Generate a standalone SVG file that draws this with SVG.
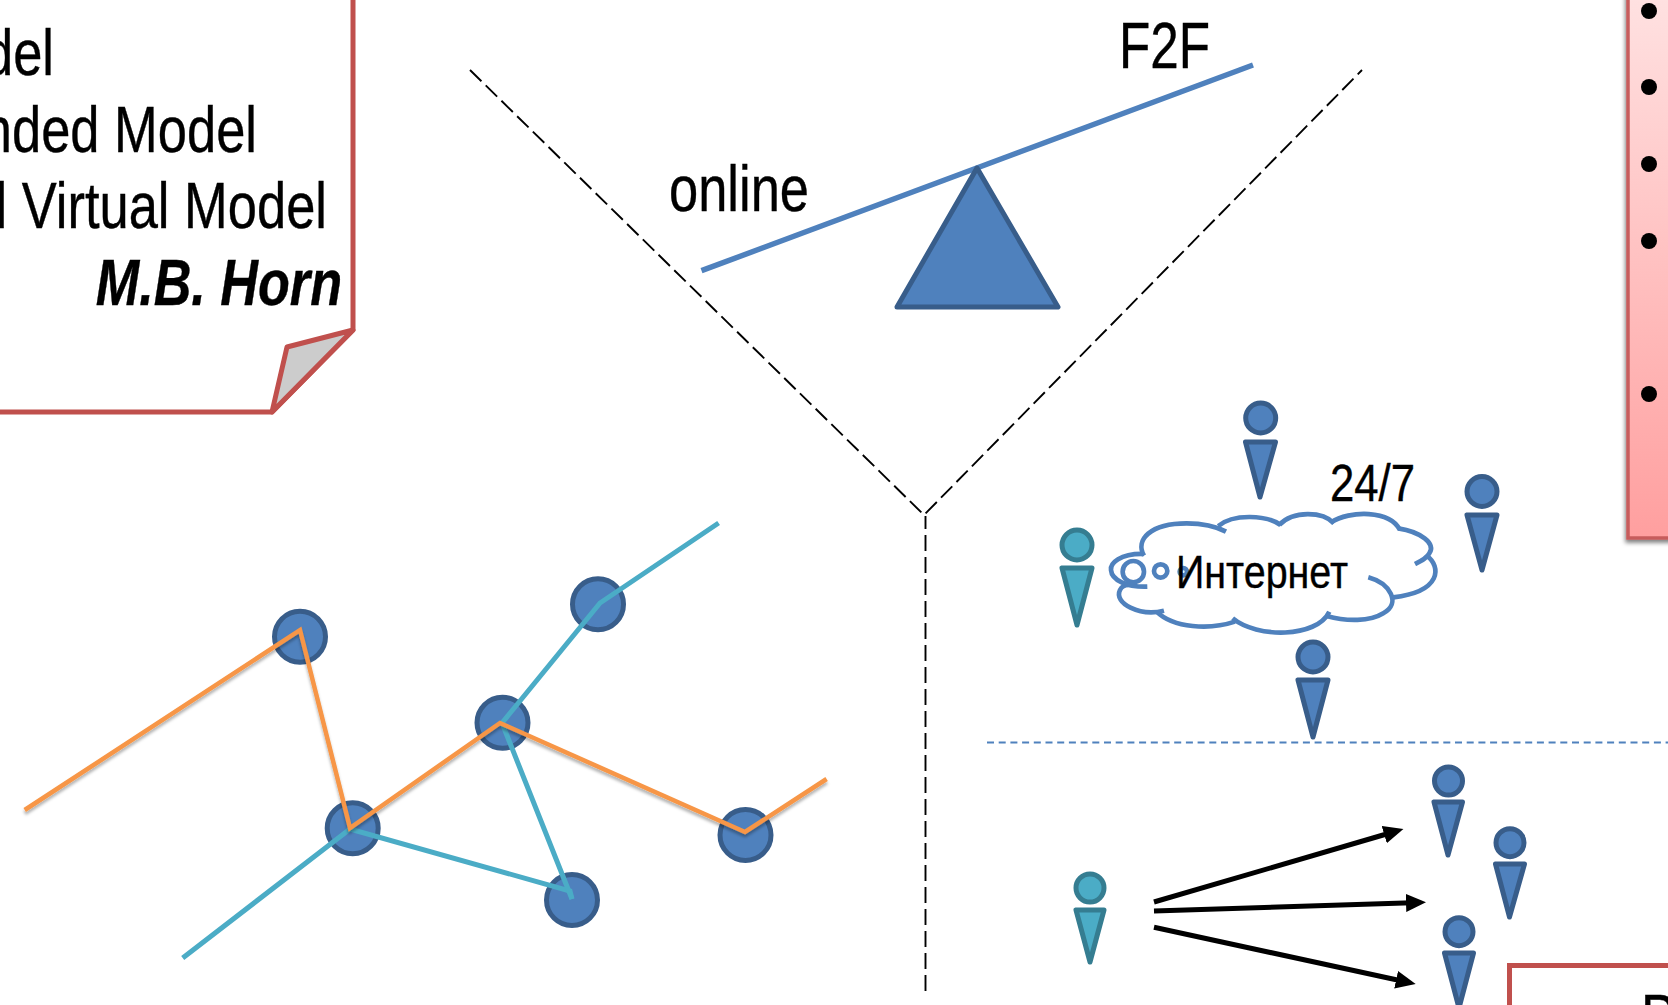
<svg xmlns="http://www.w3.org/2000/svg" width="1668" height="1005" viewBox="0 0 1668 1005">
<style>
text{font-family:"Liberation Sans",Arial,sans-serif;fill:#000;stroke:#000;stroke-width:.4}
.t64{font-size:64px}
.blue{fill:#4f81bd;stroke:#385d8a;stroke-width:5;stroke-linejoin:round}
.teal{fill:#4bacc6;stroke:#357d91;stroke-width:5;stroke-linejoin:round}
.dash{fill:none;stroke:#000;stroke-width:1.9;stroke-dasharray:16 6}
.ol{fill:none;stroke:#f79646;stroke-width:4.5}
.tl{fill:none;stroke:#4bacc6;stroke-width:5}
.cl{fill:none;stroke:#4f81bd;stroke-width:14}
.red{stroke:#c0504d;stroke-width:5}
</style>
<defs>
<linearGradient id="pink" x1="0" y1="0" x2="0" y2="1"><stop offset="0" stop-color="#ffe2e2"/><stop offset="1" stop-color="#ff9f9f"/></linearGradient>
<filter id="sh" x="-20%" y="-5%" width="140%" height="110%"><feDropShadow dx="-1" dy="3" stdDeviation="2" flood-color="#000" flood-opacity=".5"/></filter>
<filter id="ls" x="-5%" y="-5%" width="110%" height="110%"><feDropShadow dx="0" dy="3" stdDeviation="1.5" flood-color="#000" flood-opacity=".3"/></filter>
<marker id="arr" markerUnits="userSpaceOnUse" markerWidth="21" markerHeight="20" refX="6" refY="10" orient="auto"><path d="M0,1 L20,10 L0,19 Z" fill="#000"/></marker>
</defs>

<g id="note-horn">
<path d="M353,-5 V330 L272,412 H-5" fill="#fff" class="red"/>
<path d="M353,330 L287,347 L272,412 Z" fill="#ccc" class="red" stroke-linejoin="round"/>
<text class="t64" transform="translate(54,75) scale(.82,1)" text-anchor="end">del</text>
<text class="t64" transform="translate(257,152) scale(.82,1)" text-anchor="end">nded Model</text>
<text class="t64" transform="translate(327,228) scale(.82,1)" text-anchor="end">l Virtual Model</text>
<text class="t64" transform="translate(342,305) scale(.815,1)" text-anchor="end" font-weight="bold" font-style="italic">M.B. Horn</text>
</g>

<g id="panel-bullets">
<rect x="1628" y="-10" width="60" height="548" fill="url(#pink)" stroke="#c75c5c" stroke-width="3.5" filter="url(#sh)"/>
<circle cx="1649" cy="11" r="8"/><circle cx="1649" cy="87" r="8"/><circle cx="1649" cy="164" r="8"/><circle cx="1649" cy="241" r="8"/><circle cx="1649" cy="394" r="8"/>
</g>

<g id="connectors">
<path class="dash" d="M470,70 L924,515 L1362,70"/>
<path class="dash" stroke-dashoffset="3" d="M925.5,516 V992"/>
<path d="M987,742.5 H1668" fill="none" stroke="#4f81bd" stroke-width="2" stroke-dasharray="7 4.7"/>
<path d="M701.5,270.7 L1253,65" fill="none" stroke="#4f81bd" stroke-width="5.5"/>
<g stroke="#000" stroke-width="5" fill="none">
<path d="M1154,902 L1390,833" marker-end="url(#arr)"/>
<path d="M1154,911 L1412,902.7" marker-end="url(#arr)"/>
<path d="M1154,927.3 L1402,981" marker-end="url(#arr)"/>
</g>
</g>

<g id="seesaw">
<path class="blue" d="M977,168 L1058,307 H897 Z"/>
<text class="t64" transform="translate(669,211) scale(.82,1)">online</text>
<text class="t64" transform="translate(1119,68) scale(.8,1)">F2F</text>
</g>

<g id="network">
<g id="net-nodes">
<circle class="blue" cx="300" cy="636.7" r="25.5"/>
<circle class="blue" cx="598" cy="604.3" r="25.5"/>
<circle class="blue" cx="502.5" cy="722.7" r="25.5"/>
<circle class="blue" cx="352.7" cy="828.3" r="25.5"/>
<circle class="blue" cx="572" cy="900" r="25.5"/>
<circle class="blue" cx="745.5" cy="835" r="25.5"/>
</g>
<path class="tl" d="M182.7,958 L350,829 L570,891 L572,899"/>
<path class="tl" d="M572,899 L502,723 L600,603 L718.6,523" stroke-width="4.5"/>
<path class="ol" filter="url(#ls)" d="M24.7,810 L300,630 L350,828 L500,723 L745,832 L826.6,779"/>
</g>

<g id="cloud">
<g transform="translate(1040,390) scale(.3333)">
<path class="cl" d="M312,497 C285,450 330,400 440,400 C490,400 530,410 558,425"/>
<path class="cl" d="M535,408 C580,370 680,375 722,405"/>
<path class="cl" d="M718,405 C760,360 850,365 882,400"/>
<path class="cl" d="M872,398 C930,360 1050,360 1080,420"/>
<path class="cl" d="M1075,415 C1140,425 1190,460 1168,490 C1160,505 1145,512 1125,522"/>
<path class="cl" d="M1160,497 C1205,530 1205,605 1060,622"/>
<path class="cl" d="M985,562 C1050,580 1085,640 1030,670 C990,695 920,695 860,678"/>
<path class="cl" d="M868,665 C830,745 650,745 578,685"/>
<path class="cl" d="M585,695 C510,720 400,715 350,665"/>
<path class="cl" d="M372,662 C300,680 220,640 240,600 C245,590 255,585 265,585"/>
<path class="cl" d="M312,492 C240,490 210,520 213,540 C215,570 260,592 322,590"/>
<circle class="cl" cx="280" cy="545" r="32"/>
<circle class="cl" cx="362" cy="543" r="20"/>
<circle class="cl" cx="430" cy="545" r="11"/>
</g>
<text x="1176" y="588" font-size="46" textLength="172" lengthAdjust="spacingAndGlyphs">Интернет</text>
<text x="1330" y="501" font-size="52" textLength="85" lengthAdjust="spacingAndGlyphs">24/7</text>
</g>

<g id="person-1"><circle class="blue" cx="1260.7" cy="418" r="15"/><path class="blue" d="M1245.5,442 H1275.5 L1260,497 Z"/></g>
<g id="person-2"><circle class="teal" cx="1077" cy="545" r="15"/><path class="teal" d="M1062,568 H1092 L1077,625 Z"/></g>
<g id="person-3"><circle class="blue" cx="1313" cy="657" r="15"/><path class="blue" d="M1298,680 H1328 L1313,737 Z"/></g>
<g id="person-4"><circle class="blue" cx="1482" cy="491.5" r="15"/><path class="blue" d="M1467,515 H1497 L1482,570 Z"/></g>
<g id="person-5"><circle class="teal" cx="1090" cy="888" r="14"/><path class="teal" d="M1076,910 H1104 L1090,962 Z"/></g>
<g id="person-6"><circle class="blue" cx="1448.5" cy="781" r="14"/><path class="blue" d="M1434,802 H1462.5 L1448,855 Z"/></g>
<g id="person-7"><circle class="blue" cx="1510" cy="842.7" r="14"/><path class="blue" d="M1495.5,864 H1524.5 L1509.5,917 Z"/></g>
<g id="person-8"><circle class="blue" cx="1459" cy="931.7" r="14"/><path class="blue" d="M1444.5,953 H1473.5 L1459,1008 Z"/></g>

<g id="box-bottom">
<rect x="1509.5" y="965.5" width="200" height="80" fill="#fff" class="red"/>
<text class="t64" transform="translate(1641,1040) scale(.82,1)">Р</text>
</g>
</svg>
